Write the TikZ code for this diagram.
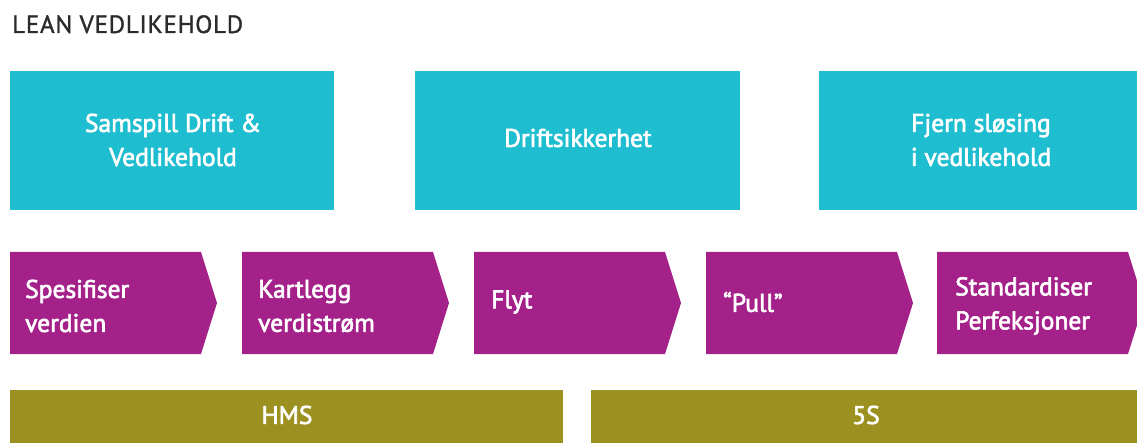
\documentclass[tikz,border=0pt]{standalone}
\usepackage{fontspec}
\setmainfont{PT Sans}
\newfontfamily\boxfont[FakeBold=2.5]{PT Sans}
\newfontfamily\titlefont[LetterSpace=3,FakeBold=1.2]{PT Sans}
\definecolor{cyanbox}{HTML}{1FBDD0}
\definecolor{purplebox}{HTML}{A4218A}
\definecolor{olivebox}{HTML}{9C9120}
\definecolor{titlegray}{HTML}{2B2B2B}
\begin{document}
\begin{tikzpicture}[x=1pt,y=-1pt,
  topbox/.style={fill=cyanbox},
  chev/.style={fill=purplebox},
  barbox/.style={fill=olivebox},
  whitetext/.style={text=white,font=\boxfont\fontsize{25.5}{34}\selectfont,inner sep=0pt},
  chevtext/.style={whitetext,anchor=west,align=left},
  boxtext/.style={whitetext,align=center}]
\useasboundingbox (0,0) rectangle (1137,443);
\clip (0,0) rectangle (1137,443);
\node[anchor=base west,inner sep=0pt,text=titlegray,font=\titlefont\fontsize{25}{28}\selectfont] (title) at (12,33) {LEAN VEDLIKEHOLD};
% top boxes
\fill[topbox] (10,71) rectangle (334,210);
\fill[topbox] (415,71) rectangle (740,210);
\fill[topbox] (819,71) rectangle (1144,210);
\node[boxtext] (t1) at (173,140) {Samspill Drift \&\\Vedlikehold};
\node[boxtext] (t2) at (578,138) {Driftsikkerhet};
\node[boxtext] (t3) at (981,140) {Fjern sløsing\\i vedlikehold};
% chevrons
\foreach \x in {10,242,474,706,937}{
  \fill[chev] (\x,252) -- ++(191,0) -- ++(16,51) -- ++(-16,51) -- ++(-191,0) -- cycle;
}
\node[chevtext] (c1) at (25,306) {Spesifiser\\verdien};
\node[chevtext] (c2) at (258,306) {Kartlegg\\verdistrøm};
\node[chevtext] (c3) at (491,302) {Flyt};
\node[chevtext] (c4) at (723,302) {“Pull”};
\node[chevtext] (c5) at (955,306) {Standardiser\\Perfeksjoner};
% bars
\fill[barbox] (10,390) rectangle (563,450);
\fill[barbox] (591,390) rectangle (1144,450);
\node[whitetext] (b1) at (287,415) {HMS};
\node[whitetext] (b2) at (866,415) {5S};
\end{tikzpicture}
\end{document}
